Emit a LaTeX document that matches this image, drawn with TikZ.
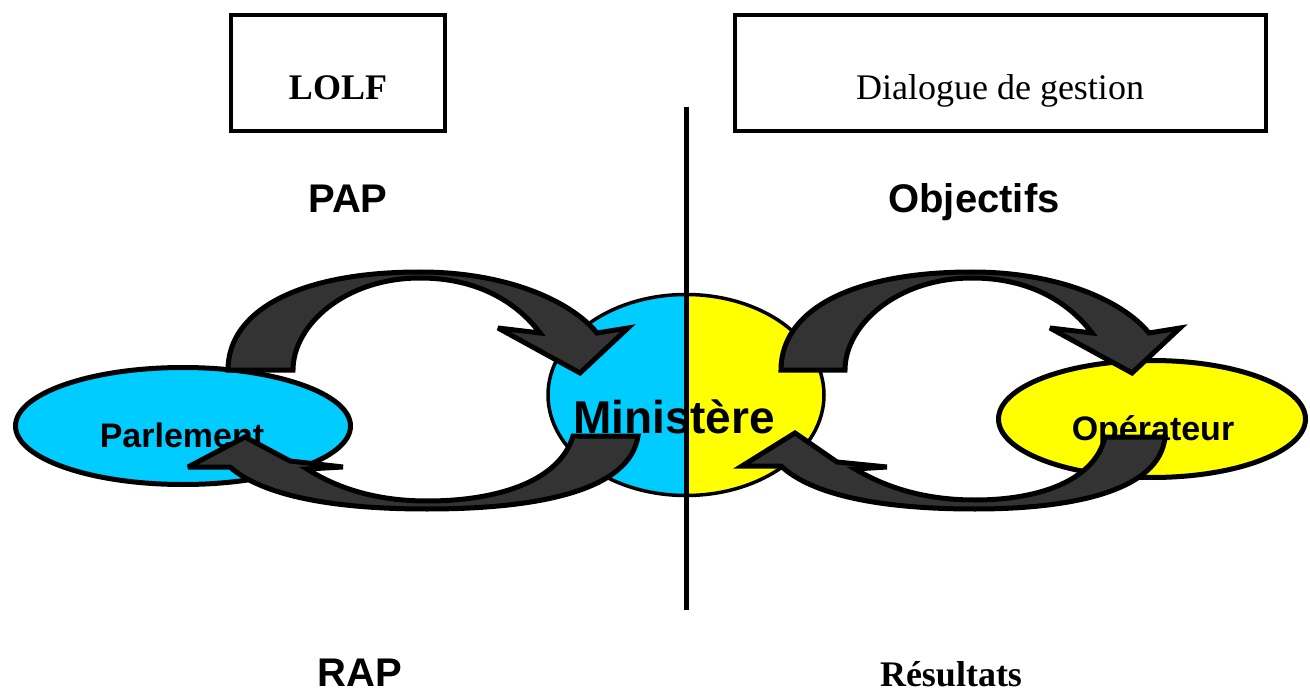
\documentclass[tikz,border=0pt]{standalone}
\usepackage{fontspec}
\setmainfont{Liberation Serif}
\setsansfont{Liberation Sans}
\usetikzlibrary{shapes.geometric}

\definecolor{bleu}{HTML}{00CCFF}
\definecolor{jaune}{HTML}{FFFF00}
\definecolor{fleche}{HTML}{333333}

\begin{document}
\begin{tikzpicture}[x=1pt, y=-1pt,
    cadre/.style={draw, line width=4pt, minimum height=116pt, inner sep=0pt},
    titre/.style={anchor=base, font=\sffamily\bfseries\fontsize{40}{46}\selectfont},
    bulle/.style={ellipse, draw, line width=5pt, inner sep=0pt},
    nom/.style={anchor=base, font=\sffamily\bfseries\fontsize{34}{40}\selectfont},
    bloc/.style={draw, line width=5pt, fill=fleche, line join=miter, miter limit=4}]
      \useasboundingbox (0,0) rectangle (1310,695);
      \node[cadre, minimum width=214pt] (lolf) at (338,73) {};
      \node[cadre, minimum width=531pt] (dialogue) at (1000.5,73) {};
      \node[anchor=base, font=\bfseries\fontsize{36}{42}\selectfont] (lolftxt) at (338,100) {LOLF};
      \node[anchor=base, font=\fontsize{36}{42}\selectfont] (dialoguetxt) at (1000,100) {Dialogue de gestion};
      \node[titre] (pap) at (348,213) {PAP};
      \node[titre] (objectifs) at (974,213) {Objectifs};
      \node[titre] (rap) at (360,686) {RAP};
      \node[anchor=base, font=\bfseries\fontsize{36}{42}\selectfont] (resultats) at (951,686) {Résultats};
      \node[bulle, fill=bleu, minimum width=335pt, minimum height=117pt] (parlement) at (183,426) {};
      \node[nom] (parlementtxt) at (182,447) {Parlement};
      \node[bulle, fill=jaune, minimum width=307pt, minimum height=117pt] (operateur) at (1152,419) {};
      \node[nom] (operateurtxt) at (1153,440) {Opérateur};
      \node[bulle, line width=3.5pt, minimum width=276pt, minimum height=201pt,
        path picture={
          \fill[bleu] (path picture bounding box.south west) rectangle (path picture bounding box.north);
          \fill[jaune] (path picture bounding box.north) rectangle (path picture bounding box.south east);
        }] (ministere) at (686,395) {};
      \coordinate (haut) at (686,107);
      \coordinate (bas) at (686,610);
      \draw[line width=5pt] (haut) -- (bas);
      \node[anchor=base, font=\sffamily\bfseries\fontsize{46}{52}\selectfont] (ministeretxt) at (674,433) {Ministère};
      \draw[bloc] (293,370) .. controls (293,325) and (345,278) .. (420,278)
        .. controls (475,278) and (515,300) .. (540,333)
        -- (498,328) -- (580,373) -- (628,328) -- (597,333)
        .. controls (570,300) and (505,272) .. (420,272)
        .. controls (300,272) and (228,310) .. (228,370) -- cycle;
      \draw[bloc] (573,436) -- (638,436) .. controls (630,490) and (540,509) .. (427,509)
        .. controls (330,509) and (262,495) .. (230,467)
        -- (188,467) -- (245,437) -- (290,461) -- (343,467) -- (307,469)
        .. controls (340,490) and (380,501) .. (427,501)
        .. controls (500,501) and (560,480) .. (573,436) -- cycle;
      \draw[bloc] (845,370) .. controls (845,325) and (897,278) .. (972,278)
        .. controls (1027,278) and (1067,300) .. (1092,333)
        -- (1050,328) -- (1132,373) -- (1180,328) -- (1149,333)
        .. controls (1122,300) and (1057,272) .. (972,272)
        .. controls (852,272) and (781,310) .. (781,370) -- cycle;
      \draw[bloc] (1105,437) -- (1165,437) .. controls (1160,490) and (1075,509) .. (975,509)
        .. controls (880,509) and (812,495) .. (781,466)
        -- (742,466) -- (795,433) -- (837,462) -- (887,467) -- (855,469)
        .. controls (890,490) and (930,500) .. (975,500)
        .. controls (1040,500) and (1095,480) .. (1105,437) -- cycle;
\end{tikzpicture}
\end{document}
